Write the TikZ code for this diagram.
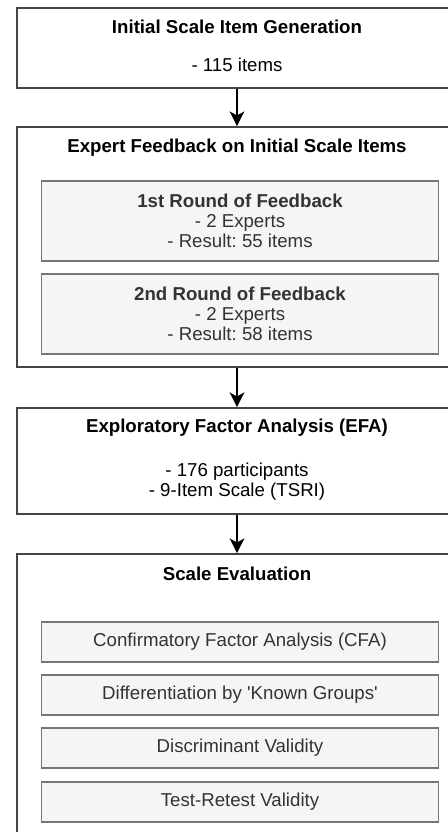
\documentclass[tikz,border=0pt]{standalone}
\usepackage{fontspec}
\setmainfont{Liberation Sans}
\usetikzlibrary{arrows.meta}
\definecolor{outerline}{HTML}{444444}
\definecolor{innerfill}{HTML}{F5F5F5}
\definecolor{innerline}{HTML}{777777}
\definecolor{innertext}{HTML}{333333}
\frenchspacing
\begin{document}
\begin{tikzpicture}[x=0.75pt,y=-0.75pt,
  outerbox/.style={draw=outerline,line width=1.3pt,fill=white,rectangle,minimum width=330pt,inner sep=0pt},
  innerbox/.style={draw=innerline,line width=1.1pt,fill=innerfill,rectangle,minimum width=298pt,inner sep=0pt,
    text=innertext,align=center,font=\fontsize{14}{15}\selectfont},
  titletext/.style={font=\fontsize{14}{15}\selectfont\bfseries,inner sep=0pt},
  bodytext/.style={font=\fontsize{14}{15}\selectfont,inner sep=0pt,align=center},
  flowarrow/.style={draw=black,line width=1.5pt,-{Stealth[length=11pt,width=11pt,inset=3pt]}}
]
\useasboundingbox (0,0) rectangle (448,832);
\clip (0,0) rectangle (448,832);
% Box A
\node[outerbox,minimum height=60pt] (A) at (237,48) {};
\node[titletext] (At) at (237,27) {Initial Scale Item Generation};
\node[bodytext] (Ab) at (237,65) {- 115 items};
% Box B
\node[outerbox,minimum height=180pt] (B) at (237,247) {};
\node[titletext] (Bt) at (237,148) {Expert Feedback on Initial Scale Items};
\node[innerbox,minimum height=60pt] (B1) at (240,221) {\textbf{1st Round of Feedback}\\- 2 Experts\\- Result: 55 items};
\node[innerbox,minimum height=60pt] (B2) at (240,314) {\textbf{2nd Round of Feedback}\\- 2 Experts\\- Result: 58 items};
% Box C
\node[outerbox,minimum height=79.5pt] (C) at (237,461) {};
\node[titletext] (Ct) at (237,428) {Exploratory Factor Analysis (EFA)};
\node[bodytext] (Cb) at (237,481.5) {- 176 participants\\- 9-Item Scale (TSRI)};
% Box D
\node[outerbox,minimum height=240pt] (D) at (237,714) {};
\node[titletext] (Dt) at (237,574) {Scale Evaluation};
\node[innerbox,minimum height=30pt] (D1) at (240,642) {Confirmatory Factor Analysis (CFA)};
\node[innerbox,minimum height=30pt] (D2) at (240,695) {Differentiation by \textquotesingle Known Groups\textquotesingle};
\node[innerbox,minimum height=30pt] (D3) at (240,748) {Discriminant Validity};
\node[innerbox,minimum height=30pt] (D4) at (240,802) {Test-Retest Validity};
% Arrows
\draw[flowarrow] (A.south) -- (B.north);
\draw[flowarrow] (B.south) -- (C.north);
\draw[flowarrow] (C.south) -- (D.north);
\end{tikzpicture}
\end{document}
